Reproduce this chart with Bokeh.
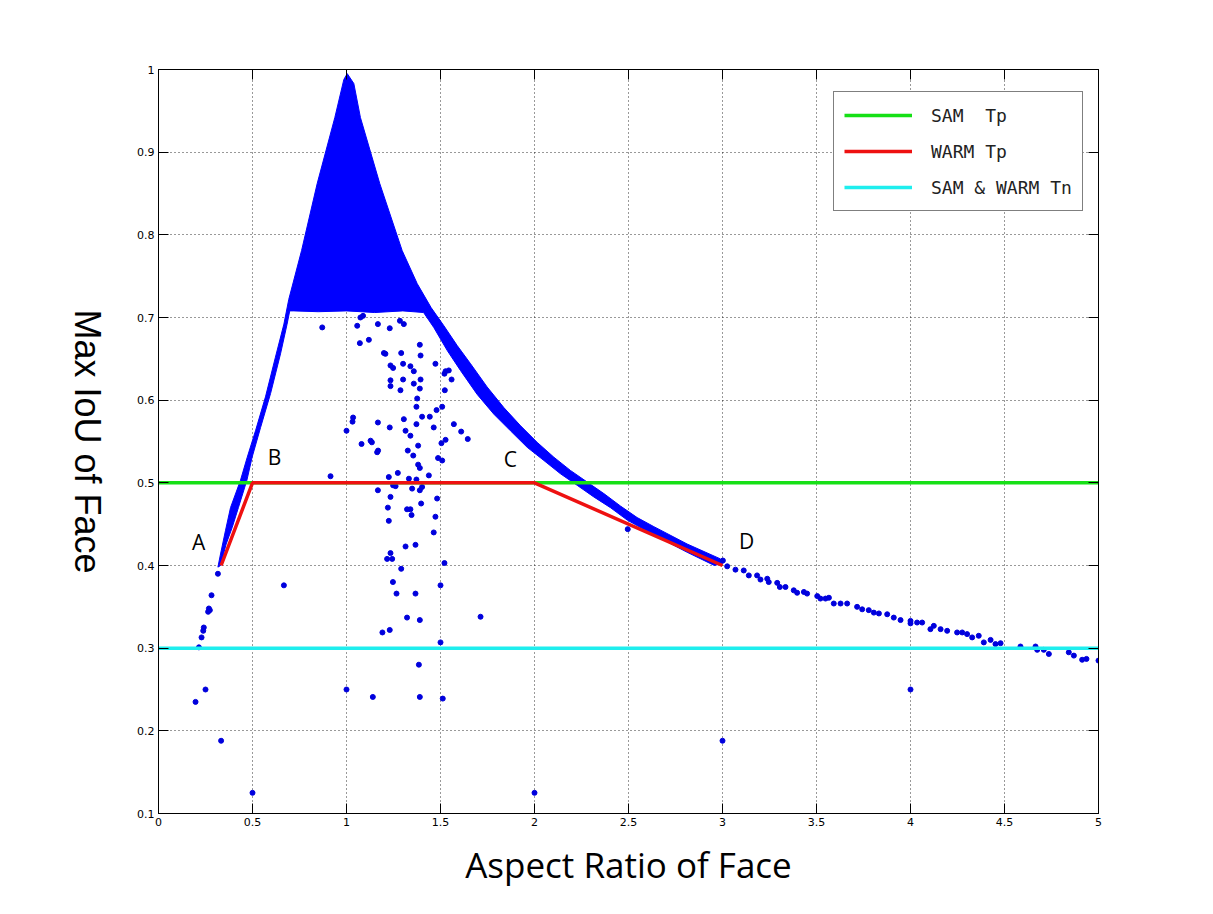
import math
from bokeh.plotting import figure
from bokeh.layouts import row
from bokeh.models import (FixedTicker, LinearAxis, Legend, LegendItem, Range1d,
                          CustomLabelingPolicy)
from bokeh.core.properties import value
from bokeh.embed import file_html
from bokeh.resources import INLINE

# ---------------- data ----------------
X_LIMITS = [0, 5]
Y_LIMITS = [0.1, 1.0]
X_TICKS = [0, 0.5, 1, 1.5, 2, 2.5, 3, 3.5, 4, 4.5, 5]
X_TICK_LABELS = ["0", "0.5", "1", "1.5", "2", "2.5", "3", "3.5", "4", "4.5", "5"]
Y_TICKS = [0.1, 0.2, 0.3, 0.4, 0.5, 0.6, 0.7, 0.8, 0.9, 1.0]
Y_TICK_LABELS = ["0.1", "0.2", "0.3", "0.4", "0.5", "0.6", "0.7", "0.8", "0.9", "1"]

SAM_TP_LEVEL = 0.5
TN_LEVEL = 0.3
WARM_TP_X = [0.333, 0.5, 2.0, 3.0]
WARM_TP_Y = [0.4, 0.5, 0.5, 0.4]

# outline of the densely packed region of samples
DENSE_X = [0.316, 0.330, 0.356, 0.383, 0.436, 0.472, 0.516, 0.569, 0.622, 0.667,
           0.693, 0.761, 0.844, 0.938, 0.986, 1.004, 1.039, 1.074, 1.177, 1.296,
           1.376, 1.450, 1.518, 1.589, 1.660, 1.748, 1.837, 1.926, 2.014, 2.103,
           2.191, 2.280, 2.369, 2.457, 2.546, 2.635, 2.812, 2.989, 3.005,
           2.957, 2.812, 2.635, 2.493, 2.404, 2.315, 2.227, 2.138, 2.050, 1.961,
           1.872, 1.784, 1.695, 1.606, 1.536, 1.464, 1.410,
           1.300, 1.150, 1.000, 0.850, 0.720, 0.698,
           0.684, 0.649, 0.596, 0.543, 0.498, 0.470, 0.425, 0.392, 0.360, 0.330]
DENSE_Y = [0.398, 0.414, 0.442, 0.470, 0.503, 0.531, 0.563, 0.604, 0.652, 0.692,
           0.722, 0.781, 0.862, 0.942, 0.988, 0.995, 0.983, 0.942, 0.862, 0.781,
           0.741, 0.712, 0.690, 0.666, 0.644, 0.616, 0.591, 0.569, 0.549, 0.531,
           0.515, 0.501, 0.487, 0.472, 0.458, 0.447, 0.426, 0.408, 0.403,
           0.400, 0.416, 0.437, 0.455, 0.470, 0.483, 0.497, 0.511, 0.527, 0.543,
           0.563, 0.583, 0.607, 0.636, 0.660, 0.688, 0.706,
           0.708, 0.706, 0.708, 0.707, 0.708, 0.708,
           0.692, 0.656, 0.608, 0.567, 0.531, 0.503, 0.470, 0.446, 0.426, 0.400]

# individual samples outside the dense region
POINTS_X = [0.915, 0.871, 0.667, 1.000, 1.035, 1.032, 1.080, 1.128, 1.135, 1.167,
            1.163, 1.168, 1.167, 1.230, 1.225, 1.248, 1.261, 1.234, 1.220, 1.225,
            1.216, 1.243, 1.234, 1.247, 1.266, 1.191, 1.230, 1.273, 1.287, 1.305,
            1.314, 1.340, 1.326, 1.355, 1.332, 1.349, 1.322, 1.340, 1.346, 1.291,
            1.314, 1.367, 1.322, 1.367, 1.390, 1.372, 1.376, 1.372, 1.381, 1.381,
            1.390, 1.372, 1.402, 1.390, 1.397, 1.402, 1.438, 1.443, 1.464, 1.479,
            1.509, 1.505, 1.527, 1.487, 1.509, 1.482, 1.473, 1.464, 1.521, 1.500,
            1.500, 1.385, 1.571, 1.610, 1.645, 1.713,
            1.230, 1.284, 1.305, 1.199, 1.207, 1.291, 1.390, 1.394, 1.301, 1.234,
            1.248, 1.340, 1.358, 1.234, 1.301, 1.358, 1.394, 1.234, 1.390, 1.473,
            1.527, 1.544, 1.559, 1.523, 1.521,
            1.057, 1.074, 1.088, 1.167, 1.071, 1.119,
            0.197, 0.250, 0.333, 0.500, 1.000, 1.140, 1.390, 1.512, 2.000, 3.000,
            4.000, 2.496,
            0.316, 0.282, 0.268, 0.273, 0.264, 0.241, 0.238, 0.229, 0.215,
            3.002, 3.025, 3.069, 3.113, 3.140, 3.184, 3.202, 3.238, 3.246, 3.291,
            3.305, 3.335, 3.379, 3.397, 3.433, 3.450, 3.504, 3.521, 3.548, 3.566,
            3.592, 3.628, 3.663, 3.716, 3.743, 3.778, 3.805, 3.832, 3.876, 3.911,
            3.947, 4.000, 4.000, 4.035, 4.062, 4.106, 4.124, 4.160, 4.195, 4.248,
            4.275, 4.301, 4.328, 4.363, 4.390, 4.426, 4.452, 4.479, 4.585, 4.665,
            4.674, 4.709, 4.736, 4.842, 4.869, 4.913, 4.936, 5.000]
POINTS_Y = [0.508, 0.688, 0.376, 0.563, 0.579, 0.574, 0.547, 0.551, 0.549, 0.573,
            0.537, 0.539, 0.491, 0.567, 0.507, 0.497, 0.496, 0.483, 0.470, 0.454,
            0.408, 0.408, 0.415, 0.380, 0.366, 0.319, 0.322, 0.512, 0.612, 0.577,
            0.563, 0.557, 0.539, 0.533, 0.505, 0.493, 0.468, 0.468, 0.461, 0.396,
            0.423, 0.425, 0.337, 0.366, 0.334, 0.592, 0.602, 0.571, 0.545, 0.522,
            0.518, 0.504, 0.495, 0.491, 0.475, 0.580, 0.509, 0.580, 0.567, 0.588,
            0.592, 0.548, 0.552, 0.530, 0.527, 0.481, 0.459, 0.440, 0.403, 0.376,
            0.307, 0.280, 0.571, 0.562, 0.553, 0.338,
            0.687, 0.696, 0.692, 0.657, 0.656, 0.657, 0.667, 0.654, 0.644, 0.642,
            0.639, 0.641, 0.635, 0.624, 0.625, 0.620, 0.625, 0.617, 0.614, 0.644,
            0.635, 0.636, 0.625, 0.612, 0.632,
            0.690, 0.700, 0.702, 0.692, 0.669, 0.673,
            0.235, 0.250, 0.188, 0.125, 0.250, 0.241, 0.241, 0.239, 0.125, 0.188,
            0.250, 0.444,
            0.390, 0.364, 0.348, 0.346, 0.344, 0.325, 0.321, 0.313, 0.301,
            0.406, 0.399, 0.395, 0.394, 0.388, 0.388, 0.383, 0.384, 0.380, 0.379,
            0.374, 0.374, 0.370, 0.367, 0.368, 0.366, 0.363, 0.360, 0.360, 0.361,
            0.354, 0.354, 0.354, 0.350, 0.347, 0.346, 0.343, 0.342, 0.341, 0.337,
            0.334, 0.333, 0.330, 0.331, 0.331, 0.323, 0.327, 0.323, 0.321, 0.319,
            0.319, 0.317, 0.313, 0.315, 0.307, 0.310, 0.305, 0.306, 0.302, 0.302,
            0.298, 0.298, 0.293, 0.295, 0.291, 0.286, 0.287, 0.285]

LETTERS = ["A", "B", "C", "D"]
LETTER_X = [0.213, 0.617, 1.872, 3.128]
LETTER_Y = [0.429, 0.531, 0.529, 0.430]

LEGEND_LABELS = ["SAM  Tp", "WARM Tp", "SAM & WARM Tn"]
X_LABEL = "Aspect Ratio of Face"
Y_LABEL = ["Max IoU of Face"]
Y_LABEL_X = [87]      # px from the left edge of the title strip
Y_LABEL_Y = [0.55]    # data units (centre of the title)

# ---------------- styling ----------------
BLUE = "#0000FF"
BLUE_PT = "#0000DD"
GREEN = "#16E016"
RED = "#EE1111"
CYAN = "#1EEEEE"

STRIP_W = 110          # width of the strip that holds the rotated y title
TOTAL_W, TOTAL_H = 1205, 906
BORDER_TOP, BORDER_BOTTOM = 69, 93

p = figure(width=TOTAL_W - STRIP_W, height=TOTAL_H,
           x_range=Range1d(X_LIMITS[0], X_LIMITS[1]),
           y_range=Range1d(Y_LIMITS[0], Y_LIMITS[1]),
           output_backend="svg", toolbar_location=None,
           min_border_left=158 - STRIP_W, min_border_right=107,
           min_border_top=BORDER_TOP, min_border_bottom=BORDER_BOTTOM)
p.background_fill_color = "white"
p.border_fill_color = "white"
p.outline_line_color = "black"
p.outline_line_width = 1

tick_font = "DejaVu Sans"
for ax, ticks, labels in ((p.xaxis[0], X_TICKS, X_TICK_LABELS), (p.yaxis[0], Y_TICKS, Y_TICK_LABELS)):
    ax.ticker = FixedTicker(ticks=ticks)
    ax.major_label_overrides = dict(zip(ticks, labels))
    ax.major_tick_in = 10
    ax.major_tick_out = 0
    ax.minor_tick_in = 0
    ax.minor_tick_out = 0
    ax.axis_line_color = "black"
    ax.major_tick_line_color = "black"
    ax.major_label_text_font = tick_font
    ax.major_label_text_font_size = "11px"
    ax.major_label_text_color = "black"
p.xaxis.major_label_standoff = 4
p.yaxis.major_label_standoff = 4

p.xaxis.axis_label = X_LABEL
p.xaxis.axis_label_text_font = "Open Sans"
p.xaxis.axis_label_text_font_size = "35px"
p.xaxis.axis_label_text_font_style = "normal"
p.xaxis.axis_label_text_color = "black"
p.xaxis.axis_label_standoff = 12

hide_all = CustomLabelingPolicy(code="for (const i of indices) indices.unset(i)")
for loc, ticks in (("above", X_TICKS), ("right", Y_TICKS)):
    ax = LinearAxis(ticker=FixedTicker(ticks=ticks), major_tick_in=10, major_tick_out=0,
                    minor_tick_in=0, minor_tick_out=0, major_label_policy=hide_all,
                    major_label_standoff=0, axis_line_color="black",
                    major_tick_line_color="black")
    p.add_layout(ax, loc)

p.xgrid.ticker = FixedTicker(ticks=X_TICKS)
p.ygrid.ticker = FixedTicker(ticks=Y_TICKS)
p.grid.grid_line_color = "black"
p.grid.grid_line_dash = "1 3"
p.grid.grid_line_alpha = 0.8
p.grid.grid_line_width = 1

# samples
p.patch(DENSE_X, DENSE_Y, fill_color=BLUE, line_color=BLUE, line_width=1)
p.scatter(POINTS_X, POINTS_Y, marker="circle", size=5, fill_color=BLUE_PT, line_color=BLUE_PT)

# thresholds
g = p.line(X_LIMITS, [SAM_TP_LEVEL, SAM_TP_LEVEL], line_color=GREEN, line_width=3.5)
r = p.line(WARM_TP_X, WARM_TP_Y, line_color=RED, line_width=3.5)
c = p.line(X_LIMITS, [TN_LEVEL, TN_LEVEL], line_color=CYAN, line_width=3.5)

p.text(x=LETTER_X, y=LETTER_Y, text=LETTERS, text_font=value("Open Sans"),
       text_font_size=value("21px"), text_align="center", text_baseline="middle",
       text_color="black")

legend = Legend(items=[LegendItem(label=LEGEND_LABELS[0], renderers=[g]),
                       LegendItem(label=LEGEND_LABELS[1], renderers=[r]),
                       LegendItem(label=LEGEND_LABELS[2], renderers=[c])],
                location=(675, 602), margin=0, padding=10, spacing=10,
                glyph_width=68, glyph_height=26, label_standoff=19,
                label_text_font="DejaVu Sans Mono", label_text_font_size="18px",
                label_text_color="#222222",
                border_line_color="black", border_line_width=1.2,
                background_fill_color="white", background_fill_alpha=1.0)
p.add_layout(legend)

# strip on the left carrying the y-axis title (reads top to bottom)
strip = figure(width=STRIP_W, height=TOTAL_H,
               x_range=Range1d(0, STRIP_W), y_range=p.y_range,
               output_backend="svg", toolbar_location=None,
               min_border_left=0, min_border_right=0,
               min_border_top=BORDER_TOP, min_border_bottom=BORDER_BOTTOM,
               x_axis_location=None, y_axis_location=None)
strip.outline_line_color = None
strip.grid.visible = False
strip.background_fill_color = "white"
strip.border_fill_color = "white"
strip.text(x=Y_LABEL_X, y=Y_LABEL_Y, text=Y_LABEL, angle=-math.pi / 2,
           text_font=value("Liberation Sans"), text_font_size=value("36px"),
           text_align="center", text_baseline="alphabetic", text_color="black")

layout = row(strip, p, spacing=0)
open("out.html", "w").write(file_html(layout, INLINE))
